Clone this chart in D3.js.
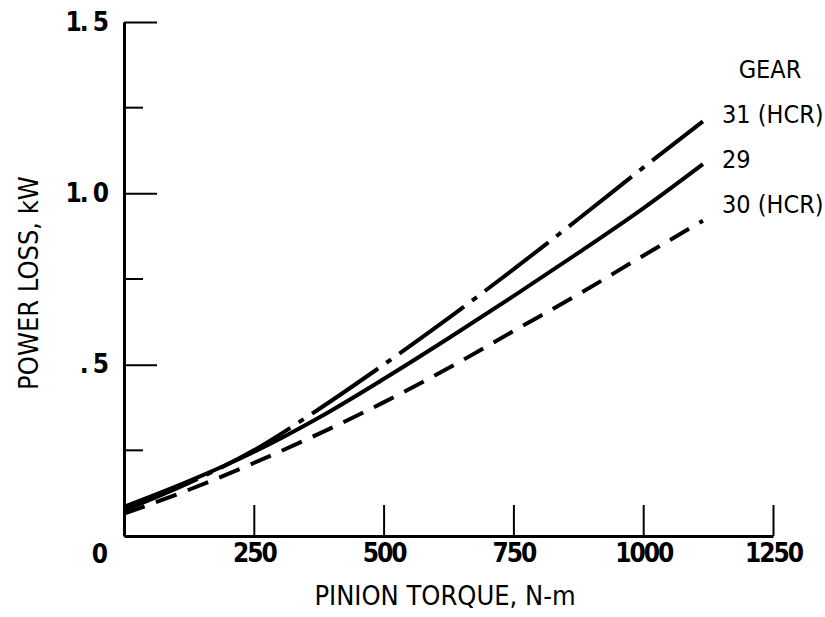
<!DOCTYPE html>
<html>
<head>
<meta charset="utf-8">
<script src="https://cdn.jsdelivr.net/npm/d3@7"></script>
<style>
  body { margin: 0; background: #fff; }
  text { font-family: "DejaVu Sans Condensed", "DejaVu Sans", sans-serif; fill: #000; }
  .tick text { font-weight: bold; font-size: 26px; letter-spacing: -2px; }
</style>
</head>
<body>
<div id="chart"></div>
<script>
// data
var torque = [0, 125, 250, 375, 500, 625, 750, 875, 1000, 1115];
var gear31 = [0.075, 0.155, 0.25, 0.37, 0.50, 0.636, 0.778, 0.925, 1.075, 1.21];
var gear29 = [0.085, 0.16, 0.245, 0.345, 0.458, 0.577, 0.70, 0.826, 0.956, 1.085];
var gear30 = [0.065, 0.135, 0.213, 0.298, 0.39, 0.49, 0.598, 0.705, 0.818, 0.92];
var seriesNames = ["31 (HCR)", "29", "30 (HCR)"];
var xTicks = [250, 500, 750, 1000, 1250];
var yTicks = [0.5, 1.0, 1.5];
var yMinor = [0.25, 0.75, 1.25];
var yTickLabels = [". 5", "1. 0", "1. 5"];

var W = 825, H = 617;
var svg = d3.select("#chart")
  .append("svg")
  .attr("width", W)
  .attr("height", H);

// scales
var x = d3.scaleLinear().domain([0, 1250]).range([124, 773]);
var y = d3.scaleLinear().domain([0, 1.5]).range([536, 22]);

// x axis, ticks pointing up
var xAxis = svg.append("g")
  .attr("transform", "translate(0," + y(0) + ")")
  .call(d3.axisBottom(x)
    .tickValues(xTicks)
    .tickSizeInner(-31)
    .tickSizeOuter(0)
    .tickPadding(8)
    .tickFormat(d3.format("d")));
xAxis.select(".domain").attr("stroke-width", 3);
xAxis.selectAll(".tick line").attr("stroke-width", 2);

// y axis, ticks pointing right
var yAxis = svg.append("g")
  .attr("transform", "translate(" + x(0) + ",0)")
  .call(d3.axisLeft(y)
    .tickValues(yTicks)
    .tickSizeInner(-33)
    .tickSizeOuter(0)
    .tickPadding(17)
    .tickFormat(function(d, i) { return yTickLabels[i]; }));
yAxis.select(".domain").attr("stroke-width", 3);
yAxis.selectAll(".tick line").attr("stroke-width", 2);

// minor y ticks
svg.append("g")
  .selectAll("line")
  .data(yMinor)
  .enter().append("line")
  .attr("x1", x(0))
  .attr("x2", x(0) + 19)
  .attr("y1", function(d) { return y(d); })
  .attr("y2", function(d) { return y(d); })
  .attr("stroke", "#000")
  .attr("stroke-width", 2);

// shared zero label at the corner
svg.append("text")
  .attr("x", 100)
  .attr("y", 563)
  .attr("text-anchor", "middle")
  .style("font-weight", "bold")
  .style("font-size", "26px")
  .text("0");

// axis titles
svg.append("text")
  .attr("x", 445)
  .attr("y", 605)
  .attr("text-anchor", "middle")
  .style("font-size", "27px")
  .text("PINION TORQUE, N-m");

svg.append("text")
  .attr("transform", "translate(38,283) rotate(-90)")
  .attr("text-anchor", "middle")
  .style("font-size", "27px")
  .text("POWER LOSS, kW");

// curves
var line = d3.line()
  .x(function(d) { return x(d[0]); })
  .y(function(d) { return y(d[1]); })
  .curve(d3.curveMonotoneX);

var series = [gear31, gear29, gear30];
var dashes = ["80,10,6,10", null, "22,12"];

series.forEach(function(vals, i) {
  svg.append("path")
    .datum(torque.map(function(t, j) { return [t, vals[j]]; }))
    .attr("fill", "none")
    .attr("stroke", "#000")
    .attr("stroke-width", 4)
    .attr("stroke-dasharray", dashes[i])
    .attr("d", line);
});

// labels at the right end
svg.append("text")
  .attr("x", 770)
  .attr("y", 78)
  .attr("text-anchor", "middle")
  .style("font-size", "25px")
  .text("GEAR");

var labelY = [123, 168, 213];
seriesNames.forEach(function(name, i) {
  svg.append("text")
    .attr("x", 722)
    .attr("y", labelY[i])
    .style("font-size", "25px")
    .text(name);
});
</script>
</body>
</html>
